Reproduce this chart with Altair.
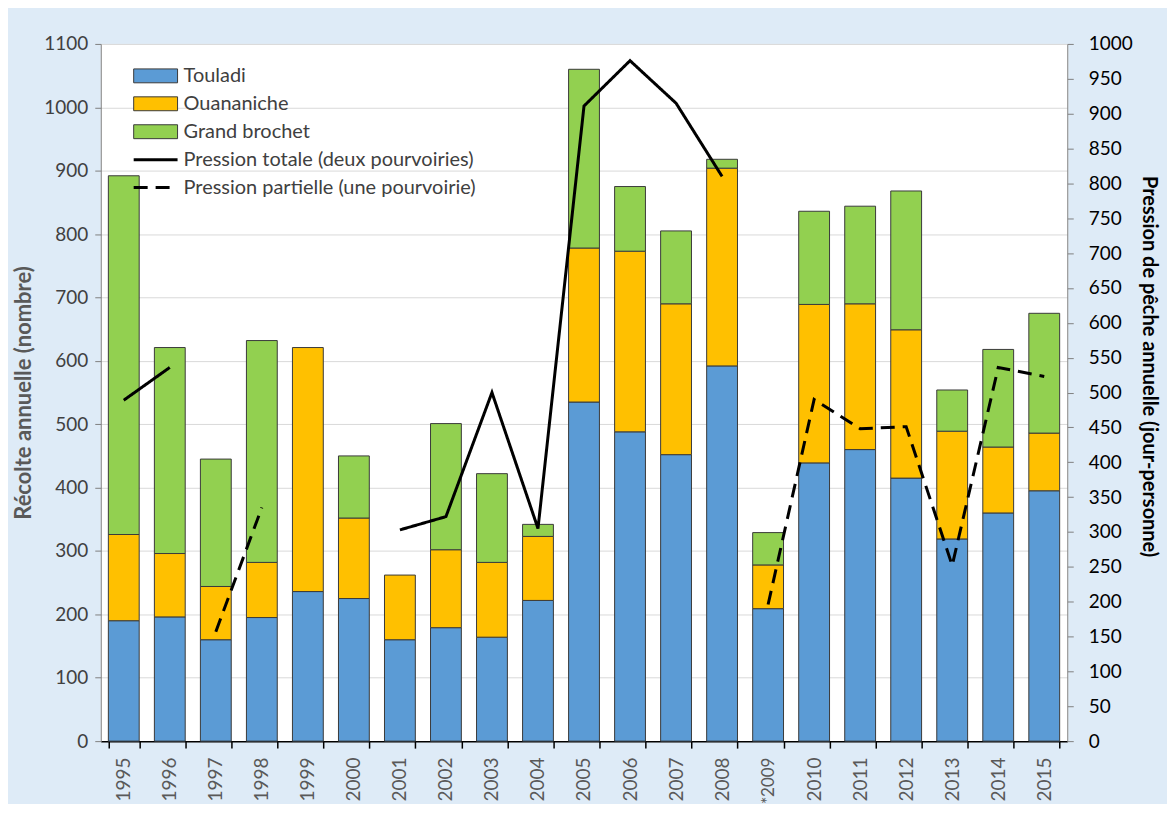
import altair as alt
import pandas as pd

years = ["1995", "1996", "1997", "1998", "1999", "2000", "2001", "2002", "2003", "2004",
         "2005", "2006", "2007", "2008", "*2009", "2010", "2011", "2012", "2013", "2014", "2015"]

touladi = [190, 196, 160, 195, 236, 225, 160, 179, 164, 222, 535, 488, 452, 592, 209, 439, 460, 415, 319, 360, 395]
ouananiche = [136, 100, 84, 87, 385, 127, 102, 123, 118, 101, 243, 285, 238, 312, 69, 250, 230, 234, 170, 104, 91]
brochet = [566, 325, 201, 350, 0, 98, 0, 199, 140, 19, 282, 102, 115, 14, 51, 147, 154, 219, 65, 154, 189]

species = ["Touladi", "Ouananiche", "Grand brochet"]
colors = ["#5B9BD5", "#FFC000", "#92D050"]

serie_tot = "Pression totale (deux pourvoiries)"
serie_part = "Pression partielle (une pourvoirie)"
pression_totale = [489, 536, None, None, None, None, 303, 322, 500, 305, 911, 976, 915, 810,
                   None, None, None, None, None, None, None]
pression_partielle = [None, None, 157, 335, None, None, None, None, None, None, None, None, None, None,
                      196, 490, 448, 451, 252, 536, 523]

# bar table
rows = []
for i, y in enumerate(years):
    for k, (name, vals) in enumerate(zip(species, [touladi, ouananiche, brochet])):
        if vals[i] > 0:
            rows.append({"year": y, "species": name, "value": vals[i], "ord": k})
bar_df = pd.DataFrame(rows)

# line table, split into contiguous segments
lrows = []
for name, vals in [(serie_tot, pression_totale), (serie_part, pression_partielle)]:
    seg = 0
    prev = None
    for i, y in enumerate(years):
        v = vals[i]
        if v is None:
            prev = None
            continue
        if prev is None:
            seg += 1
        lrows.append({"year": y, "serie": name, "value": v, "seg": f"{name}-{seg}"})
        prev = v
line_df = pd.DataFrame(lrows)

FONT = "Lato"

x_enc = alt.X(
    "year:N", sort=years,
    scale=alt.Scale(paddingInner=0.33, paddingOuter=0.165),
    axis=alt.Axis(title=None, labelAngle=-90,
                  labelFontSize={"condition": {"test": "datum.value == '*2009'", "value": 17}, "value": 19},
                  labelColor="#595959",
                  labelPadding=9, tickBand="extent", tickSize=7, tickColor="#000000",
                  domainColor="#000000", domainWidth=1.5, tickWidth=1.5, grid=False),
)

legend_common = dict(title=None, orient="none", symbolSize=215, labelOffset=18,
                     labelFontSize=20, labelColor="#404040", rowPadding=8, padding=0,
                     labelLimit=0)

bars = alt.Chart(bar_df).mark_bar(stroke="#3a3a3a", strokeWidth=1).encode(
    x=x_enc,
    y=alt.Y("value:Q", stack="zero",
            scale=alt.Scale(domain=[0, 1100], nice=False),
            axis=alt.Axis(values=list(range(0, 1101, 100)), format="d",
                          title="Récolte annuelle (nombre)",
                          labelFontSize=19, labelColor="#404040", labelPadding=7,
                          tickSize=6, tickColor="#808080", domainColor="#808080",
                          gridColor="#D9D9D9", grid=True,
                          titleFontSize=22, titleFontWeight="bold", titleColor="#595959",
                          titlePadding=8)),
    fill=alt.Fill("species:N", scale=alt.Scale(domain=species, range=colors),
                  legend=alt.Legend(legendX=45, legendY=22,
                                    symbolType="M-3,-0.95H3V0.95H-3Z",
                                    symbolStrokeColor="#3a3a3a", symbolStrokeWidth=1,
                                    **legend_common)),
    order=alt.Order("ord:Q"),
)

lines = alt.Chart(line_df).mark_line(color="black", strokeWidth=3).encode(
    x=alt.X("year:N", sort=years, scale=alt.Scale(paddingInner=0.33, paddingOuter=0.165)),
    y=alt.Y("value:Q",
            scale=alt.Scale(domain=[0, 1000], nice=False),
            axis=alt.Axis(orient="right", values=list(range(0, 1001, 50)), format="d",
                          title="Pression de pêche annuelle (jour-personne)",
                          labelFontSize=19, labelColor="#000000", labelPadding=15,
                          tickSize=6, tickColor="#808080", domainColor="#808080", grid=False,
                          titleFontSize=20, titleFontWeight="bold", titleColor="#000000",
                          titlePadding=6, titleY=323)),
    strokeDash=alt.StrokeDash("serie:N",
                              scale=alt.Scale(domain=[serie_tot, serie_part], range=[[1, 0], [14, 8]]),
                              legend=alt.Legend(legendX=45, legendY=106,
                                                symbolType="M-3,0H3",
                                                symbolStrokeColor="black", symbolStrokeWidth=3,
                                                **legend_common)),
    detail="seg:N",
)

chart = alt.layer(bars, lines).resolve_scale(y="independent", fill="independent", strokeDash="independent").properties(
    width=969, height=699,
    padding={"left": 93, "top": 35, "right": 100, "bottom": 62},
    autosize=alt.AutoSizeParams(type="none"),
).configure(font=FONT, background="#DEEBF7").configure_view(fill="white", stroke="white")

chart.save("out.html", embed_options={"renderer": "svg", "actions": False})
